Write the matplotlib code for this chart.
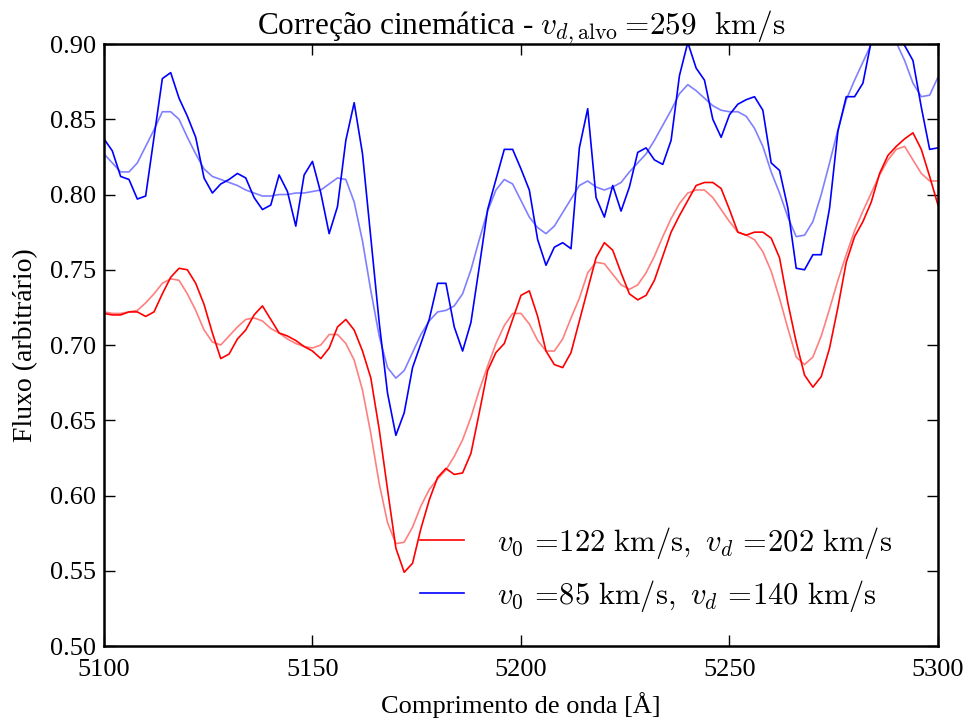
import numpy as np
import matplotlib
matplotlib.use("Agg")
import matplotlib.pyplot as plt
from matplotlib.ticker import FormatStrFormatter

plt.rcParams['font.family'] = ['Liberation Serif', 'DejaVu Serif']
plt.rcParams['mathtext.fontset'] = 'cm'

wavelength = np.arange(5100, 5302, 2)

blue_obs = [
    0.837, 0.829, 0.812, 0.810, 0.797, 0.799, 0.838, 0.877, 0.881, 0.864,
    0.852, 0.838, 0.811, 0.801, 0.807, 0.810, 0.814, 0.811, 0.798, 0.790,
    0.793, 0.813, 0.802, 0.779, 0.813, 0.822, 0.801, 0.774, 0.792, 0.836,
    0.861, 0.827, 0.771, 0.715, 0.668, 0.640, 0.655, 0.685, 0.701, 0.717,
    0.741, 0.741, 0.712, 0.696, 0.715, 0.752, 0.790, 0.810, 0.830, 0.830,
    0.817, 0.803, 0.770, 0.753, 0.765, 0.768, 0.764, 0.831, 0.857, 0.798,
    0.785, 0.806, 0.789, 0.805, 0.828, 0.831, 0.823, 0.820, 0.836, 0.879,
    0.901, 0.884, 0.876, 0.850, 0.838, 0.853, 0.860, 0.863, 0.865, 0.856,
    0.821, 0.816, 0.791, 0.751, 0.750, 0.760, 0.760, 0.791, 0.842, 0.865,
    0.865, 0.874, 0.902, 0.910, 0.915, 0.906, 0.899, 0.889, 0.858, 0.830,
    0.831]

blue_model = [
    0.827, 0.821, 0.815, 0.815, 0.821, 0.832, 0.843, 0.855, 0.855, 0.850,
    0.838, 0.827, 0.817, 0.812, 0.810, 0.808, 0.806, 0.803, 0.801, 0.799,
    0.799, 0.800, 0.800, 0.801, 0.801, 0.802, 0.803, 0.807, 0.811, 0.810,
    0.795, 0.769, 0.736, 0.706, 0.685, 0.678, 0.683, 0.695, 0.707, 0.716,
    0.722, 0.723, 0.726, 0.734, 0.750, 0.770, 0.789, 0.803, 0.810, 0.807,
    0.796, 0.785, 0.778, 0.774, 0.779, 0.788, 0.797, 0.806, 0.809, 0.805,
    0.803, 0.805, 0.808, 0.815, 0.821, 0.827, 0.836, 0.846, 0.856, 0.867,
    0.873, 0.869, 0.864, 0.859, 0.856, 0.855, 0.855, 0.852, 0.844, 0.832,
    0.815, 0.801, 0.785, 0.772, 0.773, 0.782, 0.800, 0.821, 0.843, 0.863,
    0.876, 0.888, 0.900, 0.906, 0.908, 0.901, 0.889, 0.874, 0.865, 0.866,
    0.878]

red_obs = [
    0.721, 0.720, 0.720, 0.722, 0.722, 0.719, 0.722, 0.734, 0.745, 0.751,
    0.750, 0.741, 0.727, 0.708, 0.691, 0.694, 0.704, 0.710, 0.720, 0.726,
    0.717, 0.708, 0.706, 0.703, 0.699, 0.696, 0.691, 0.698, 0.712, 0.717,
    0.710, 0.696, 0.678, 0.644, 0.604, 0.565, 0.549, 0.555, 0.578, 0.597,
    0.612, 0.618, 0.614, 0.615, 0.628, 0.655, 0.683, 0.695, 0.701, 0.717,
    0.733, 0.736, 0.719, 0.696, 0.687, 0.685, 0.695, 0.716, 0.737, 0.758,
    0.768, 0.763, 0.748, 0.734, 0.730, 0.733, 0.743, 0.759, 0.775, 0.786,
    0.796, 0.806, 0.808, 0.808, 0.804, 0.790, 0.775, 0.773, 0.775, 0.775,
    0.771, 0.758, 0.728, 0.702, 0.680, 0.672, 0.679, 0.698, 0.725, 0.755,
    0.772, 0.782, 0.795, 0.814, 0.826, 0.832, 0.837, 0.841, 0.830, 0.812,
    0.793]

red_model = [
    0.722, 0.721, 0.721, 0.722, 0.723, 0.728, 0.734, 0.741, 0.744, 0.743,
    0.734, 0.723, 0.710, 0.702, 0.700, 0.706, 0.712, 0.717, 0.718, 0.716,
    0.711, 0.708, 0.704, 0.701, 0.699, 0.698, 0.700, 0.707, 0.707, 0.701,
    0.690, 0.670, 0.641, 0.608, 0.582, 0.568, 0.569, 0.579, 0.593, 0.604,
    0.611, 0.617, 0.626, 0.637, 0.652, 0.670, 0.686, 0.701, 0.713, 0.721,
    0.721, 0.714, 0.703, 0.696, 0.696, 0.704, 0.718, 0.731, 0.748, 0.755,
    0.754, 0.747, 0.740, 0.737, 0.740, 0.748, 0.759, 0.772, 0.784, 0.794,
    0.801, 0.803, 0.803, 0.798, 0.790, 0.782, 0.775, 0.773, 0.770, 0.762,
    0.749, 0.731, 0.711, 0.692, 0.687, 0.692, 0.706, 0.724, 0.743, 0.760,
    0.776, 0.789, 0.801, 0.813, 0.823, 0.830, 0.832, 0.823, 0.814, 0.809,
    0.809]

red_label = r'$v_0\,=\!122\ \mathrm{km/s},\ v_d\,=\!202\ \mathrm{km/s}$'
blue_label = r'$v_0\,=\!85\ \mathrm{km/s},\ v_d\,=\!140\ \mathrm{km/s}$'
title = r'Correção cinemática - $v_{d,\mathrm{alvo}}=\!259\ \ \mathrm{km/s}$'

fig = plt.figure(figsize=(9.68, 7.24), dpi=100)
ax = fig.add_axes([0.1074, 0.1077, 0.8616, 0.8315])

ax.plot(wavelength, red_obs, color='red', lw=1.2, label=red_label)
ax.plot(wavelength, red_model, color='red', lw=1.2, alpha=0.5)
ax.plot(wavelength, blue_obs, color='blue', lw=1.2, label=blue_label)
ax.plot(wavelength, blue_model, color='blue', lw=1.2, alpha=0.5)

ax.set_xlim(5100, 5300)
ax.set_ylim(0.50, 0.90)
ax.set_xticks(np.arange(5100, 5301, 50))
ax.set_yticks(np.arange(0.50, 0.901, 0.05))
ax.yaxis.set_major_formatter(FormatStrFormatter('%.2f'))
ax.tick_params(direction='in', top=True, right=True, length=8, width=1,
               labelsize=19)
ax.tick_params(axis='x', pad=9)
ax.tick_params(axis='y', pad=6)
for s in ax.spines.values():
    s.set_linewidth(1.8)

ax.set_title(title, fontsize=22.5, pad=7)
ax.set_xlabel('Comprimento de onda [Å]', fontsize=19, labelpad=8)
ax.set_ylabel('Fluxo (arbitrário)', fontsize=20, labelpad=8)

ax.legend(loc='lower right', bbox_to_anchor=(0.9592, 0.0332), frameon=False,
          fontsize=22, handlelength=1.45, handletextpad=1.05,
          labelspacing=0.55, borderaxespad=0.0)

fig.savefig('out.png', dpi=100)
